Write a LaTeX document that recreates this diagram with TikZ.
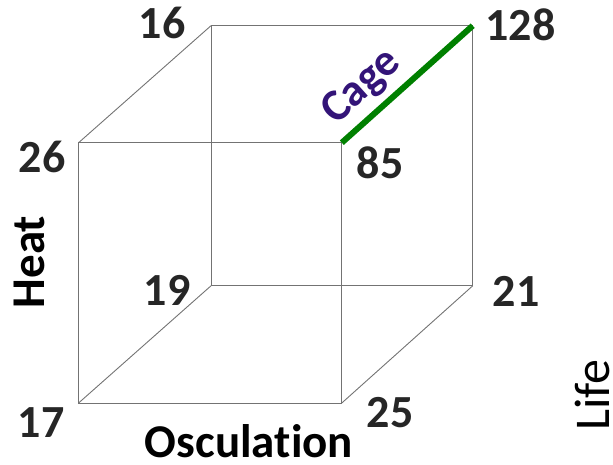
\documentclass[tikz,border=0pt]{standalone}
\usepackage{fontspec}
\setmainfont{Carlito}[Ligatures=NoCommon]
\usetikzlibrary{positioning}
\definecolor{cageGreen}{RGB}{0,128,0}
\definecolor{cagePurple}{RGB}{51,20,120}
\definecolor{numGray}{RGB}{38,38,38}

\tikzset{
  edge/.style={draw=black!55, line width=0.9pt},
  num/.style={font=\fontsize{46}{50}\selectfont\bfseries, text=numGray, inner sep=0pt},
  axis/.style={font=\fontsize{47}{50}\selectfont\bfseries, text=black, inner sep=0pt},
}

\begin{document}
\begin{tikzpicture}[x=1pt,y=-1pt]
  \useasboundingbox (0,0) rectangle (613,465);
  % front face
  \coordinate (ftl) at (78.6,142.7);
  \coordinate (ftr) at (341.8,142.7);
  \coordinate (fbr) at (341.8,403);
  \coordinate (fbl) at (78.6,403);
  % back face
  \coordinate (btl) at (211,25.7);
  \coordinate (btr) at (472.7,25.7);
  \coordinate (bbr) at (472.7,285.8);
  \coordinate (bbl) at (211,285.8);

  \draw[edge] (ftl) -- (ftr) -- (fbr) -- (fbl) -- cycle;
  \draw[edge] (btl) -- (btr) -- (bbr) -- (bbl) -- cycle;
  \draw[edge] (ftl) -- (btl);
  \draw[edge] (fbl) -- (bbl);
  \draw[edge] (fbr) -- (bbr);
  \draw[cageGreen, line width=6pt] (ftr) -- (btr);

  % corner values
  \node[num] (v16) at (162,22.5) {16};
  \node[num] (v128) at (520.5,25) {128};
  \node[num] (v26) at (42,157) {26};
  \node[num] (v85) at (380,163) {85};
  \node[num] (v19) at (167,290.5) {19};
  \node[num] (v21) at (516,291) {21};
  \node[num] (v17) at (41,423) {17};
  \node[num] (v25) at (390,413) {25};

  % axes
  \node[axis] (osc) at (249,441) {Osculation};
  \node[axis, rotate=90] (heat) at (29,262) {Heat};
  \node[font=\fontsize{50}{54}\selectfont, inner sep=0pt, rotate=90] (life) at (592,395) {Life};
  \node[font=\fontsize{45}{48}\selectfont\bfseries, text=cagePurple, inner sep=0pt, rotate=42] (cage) at (362,87) {Cage};
\end{tikzpicture}
\end{document}
